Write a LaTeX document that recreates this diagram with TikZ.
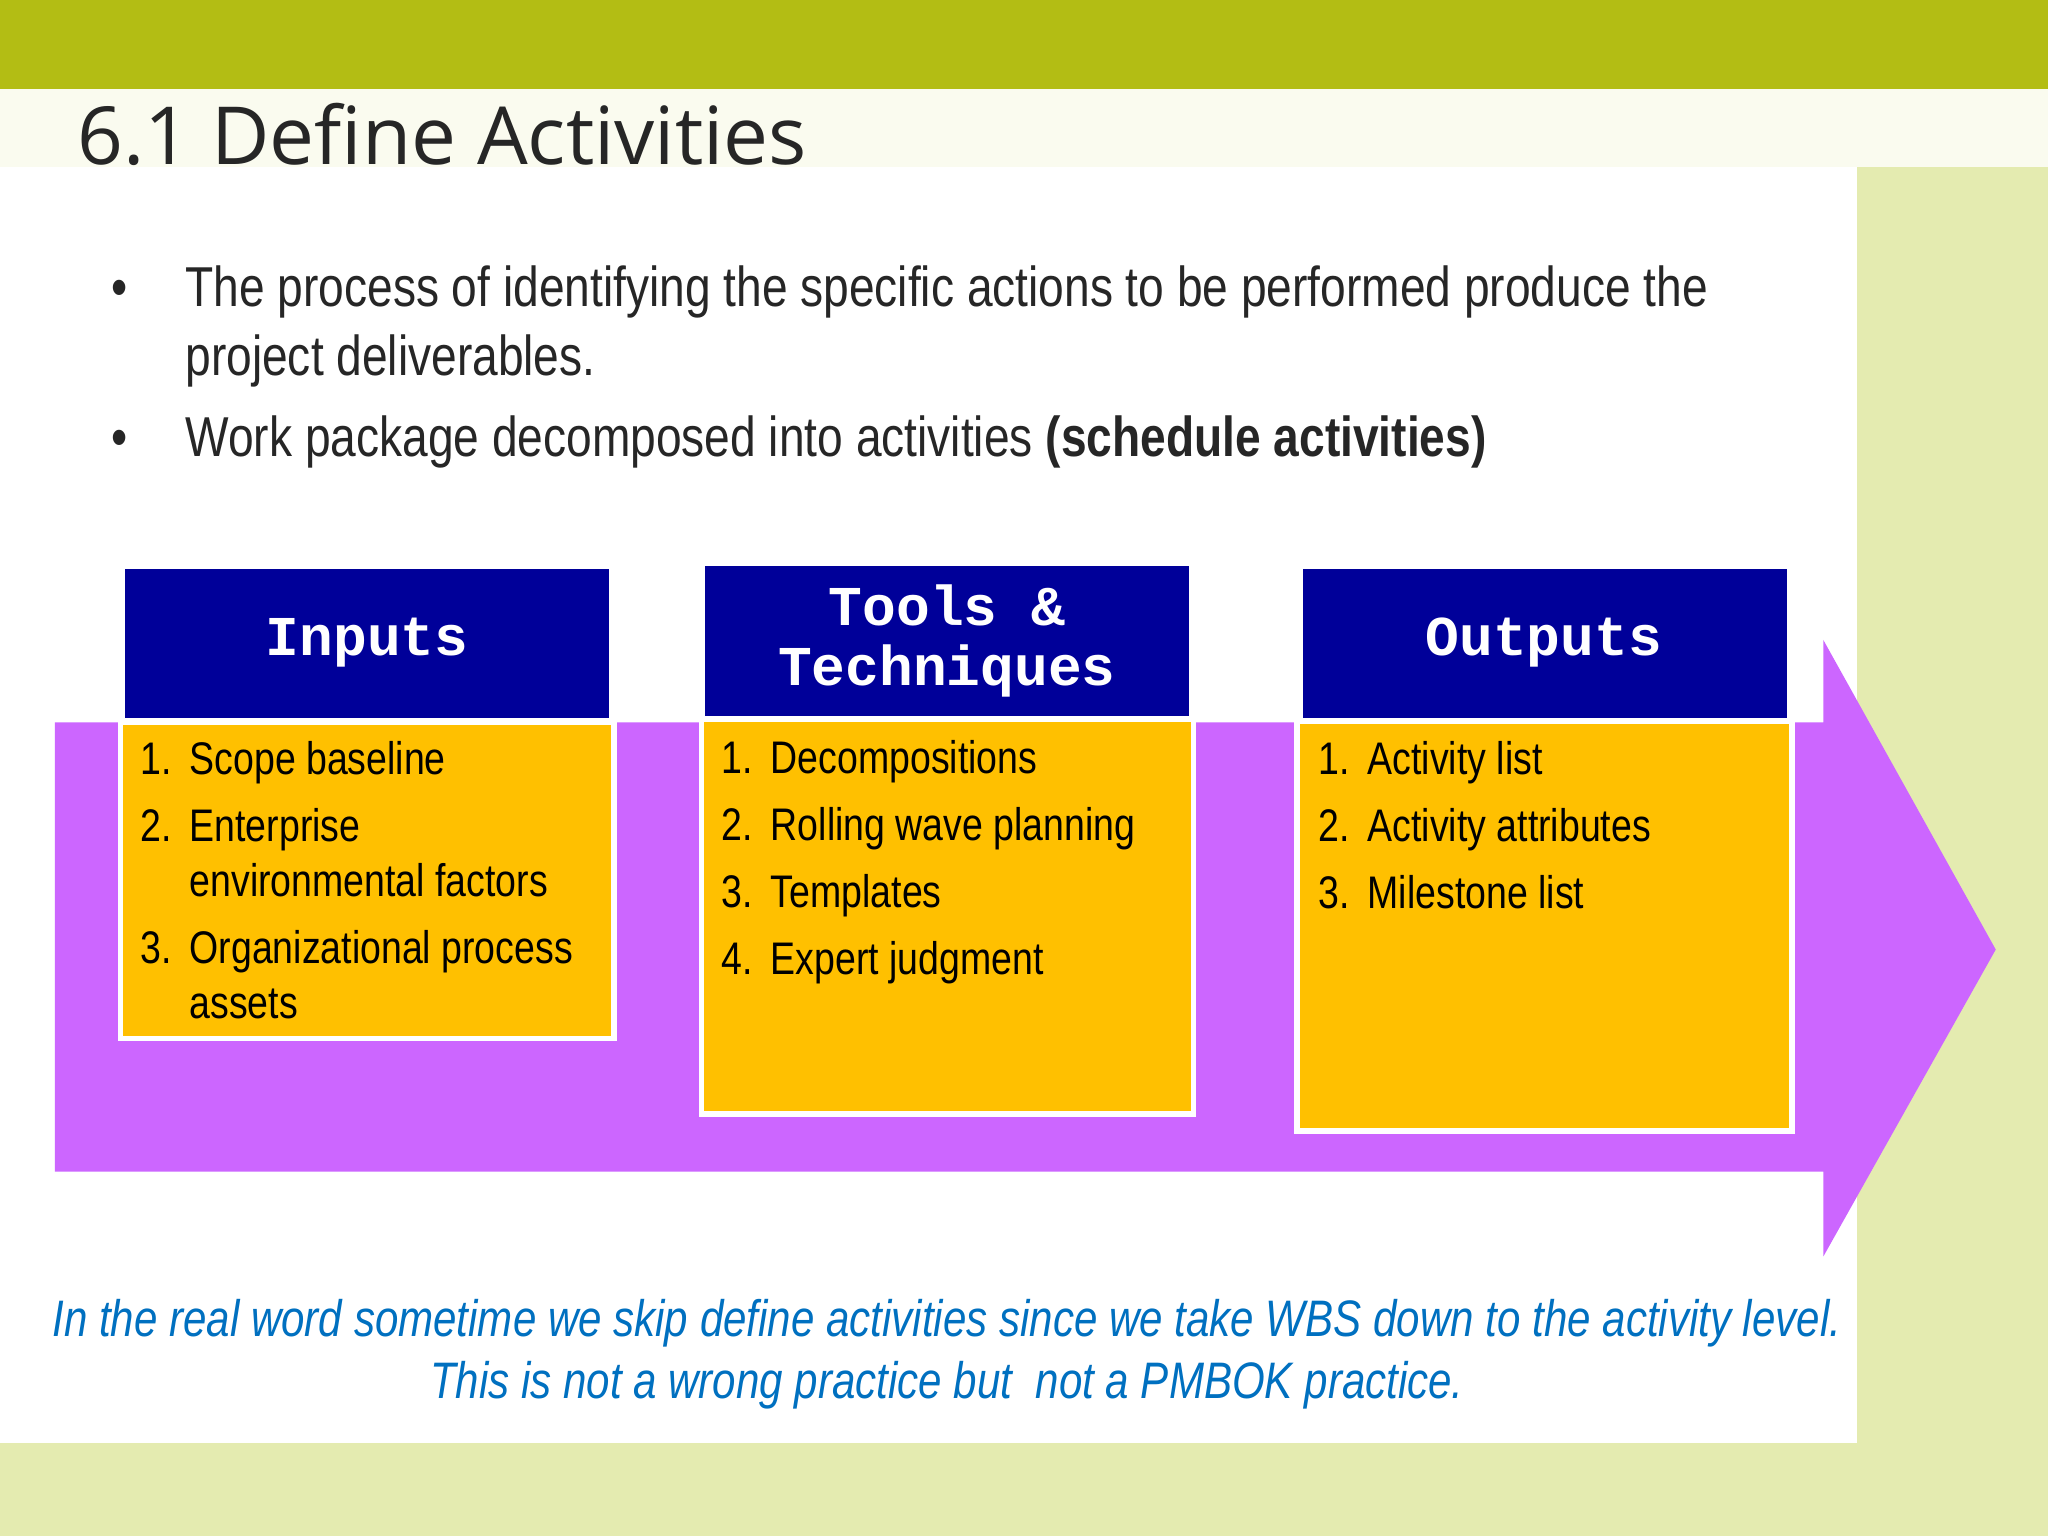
\documentclass[tikz,border=0pt]{standalone}
\usepackage{fontspec}
\setmainfont{Liberation Sans}[FakeStretch=0.82]
\newfontfamily\titlefont{Open Sans}
\newfontfamily\headfont{Liberation Mono}
\newcommand{\itm}[2]{\makebox[14pt][l]{#1}#2}
\newcommand{\cnt}[1]{\hspace*{14pt}#1}
\begin{document}
\begin{tikzpicture}[x=0.01306cm,y=-0.01306cm,
  hdr/.style={fill=hnavy,draw=white,line width=1.2pt,inner sep=0},
  bodybox/.style={fill=borange,draw=white,line width=1.5pt},
  htext/.style={text=white,font=\headfont\fontsize{16}{19}\selectfont\bfseries,align=center},
  item/.style={anchor=north west,font=\fontsize{13}{15.6}\selectfont,align=left,text=black,inner sep=0}]
\definecolor{hnavy}{HTML}{000099}
\definecolor{borange}{HTML}{FFC000}
\definecolor{apurple}{HTML}{CC66FF}
\definecolor{topgreen}{HTML}{B3BD14}
\definecolor{bggreen}{HTML}{E4EBB0}
\definecolor{blueT}{HTML}{0070C0}
\useasboundingbox (0,0) rectangle (1568,1176);
\fill[bggreen] (0,0) rectangle (1568,1176);
\fill[topgreen] (0,0) rectangle (1568,68);
\fill[white!80!bggreen] (0,68) rectangle (1568,128);
\fill[white] (0,128) rectangle (1422,1105);
\node[anchor=west,font=\titlefont\fontsize{22.8}{26}\selectfont,text=black!85] (title) at (50,103) {6.1 Define Activities};
\node[anchor=north west,font=\fontsize{16}{19.5}\selectfont,align=left,text=black!85] (b1) at (76,194)
 {\makebox[21pt][l]{\textbullet}The process of identifying the specific actions to be performed produce the\\
  \hspace*{21pt}project deliverables.};
\node[anchor=north west,font=\fontsize{16}{19.5}\selectfont,text=black!85] (b2) at (76,309)
 {\makebox[21pt][l]{\textbullet}Work package decomposed into activities \textbf{(schedule activities)}};
\fill[apurple] (42,553) -- (1396,553) -- (1396,490) -- (1528,727) -- (1396,962) -- (1396,897) -- (42,897) -- cycle;
% Inputs
\draw[bodybox] (92,553) rectangle (470,795);
\draw[hdr] (94,434) rectangle (468,551);
\node[htext] (hin) at (281,492) {Inputs};
\node[item] (iin) at (107,567) {\itm{1.}{Scope baseline}\\[3.5pt]\itm{2.}{Enterprise}\\\cnt{environmental factors}\\[3.5pt]\itm{3.}{Organizational process}\\\cnt{assets}};
% Tools
\draw[bodybox] (537,551) rectangle (914,853);
\draw[hdr] (538,432) rectangle (912,550);
\node[htext] (htl) at (725,491) {Tools \&\\[-2pt]Techniques};
\node[item] (itl) at (552,566) {\itm{1.}{Decompositions}\\[3.5pt]\itm{2.}{Rolling wave planning}\\[3.5pt]\itm{3.}{Templates}\\[3.5pt]\itm{4.}{Expert judgment}};
% Outputs
\draw[bodybox] (993,552) rectangle (1372,866);
\draw[hdr] (996,434) rectangle (1370,551);
\node[htext] (hout) at (1182,492) {Outputs};
\node[item] (iout) at (1009,567) {\itm{1.}{Activity list}\\[3.5pt]\itm{2.}{Activity attributes}\\[3.5pt]\itm{3.}{Milestone list}};
\node[font=\fontsize{14.6}{17.5}\selectfont\itshape,text=blueT,align=center] (foot) at (725,1037)
 {In the real word sometime we skip define activities since we take WBS down to the activity level.\\This is not a wrong practice but\ \ not a PMBOK practice.};
\end{tikzpicture}
\end{document}
